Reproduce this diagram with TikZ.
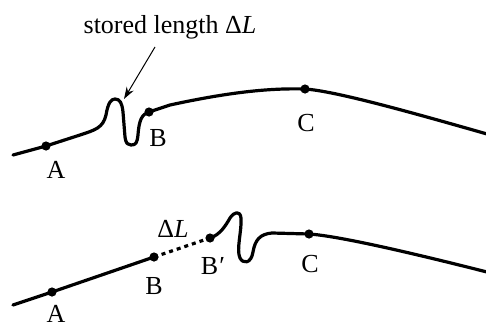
\documentclass[tikz,border=0pt]{standalone}
\usepackage{fontspec}
\setmainfont{Liberation Serif}
\usetikzlibrary{arrows.meta}
\begin{document}
\begin{tikzpicture}[x=0.5pt,y=-0.5pt,
  rope/.style={line width=1.6pt,line cap=round,line join=round},
  pt/.style={circle,fill=black,inner sep=0pt,minimum size=4.6pt},
  lbl/.style={inner sep=0pt,font=\fontsize{13}{15}\selectfont},
  pointer/.style={line width=0.5pt,-{Stealth[length=6pt,width=4pt]}}]
\useasboundingbox (0,0) rectangle (486,321);
% top configuration
\coordinate (t0) at (13,155);
\node[pt] (tA) at (46,146) {};
\coordinate (t1) at (80,135);
\node[pt] (tB) at (149,112) {};
\coordinate (t2) at (170,105);
\node[pt] (tC) at (305,89) {};
\coordinate (t3) at (487,134);
\draw[rope] (t0) -- (tA.center) -- (t1)
  .. controls (95,130) and (103,128) .. (106,115)
  .. controls (108,103) and (111,99) .. (115,99)
  .. controls (120,99) and (122,103) .. (123,112)
  -- (125,137)
  .. controls (126,144) and (128,145) .. (131,145)
  .. controls (136,145) and (137,143) .. (138,135)
  .. controls (139,120) and (142,114) .. (tB.center)
  -- (t2) .. controls (230,92) and (270,88) .. (tC.center)
  .. controls (335,91) and (410,112) .. (t3);
\node[lbl] (lA1) at (56,170) {A};
\node[lbl] (lB1) at (158,138) {B};
\node[lbl] (lC1) at (306,123) {C};
\node[lbl] (title) at (170,27) {stored length \textup{Δ}\textit{L}};
\coordinate (tip) at (124,99);
\draw[pointer] (155,47) -- (tip);
% bottom configuration
\coordinate (b0) at (13,305);
\node[pt] (bA) at (52,292) {};
\node[pt] (bB) at (154,257) {};
\node[pt] (bBp) at (210,238) {};
\node[pt] (bC) at (309,234) {};
\coordinate (b3) at (487,272);
\draw[rope] (b0) -- (bA.center) -- (bB.center);
\draw[line width=1.6pt,dash pattern=on 2pt off 2pt] (bB.center) -- (bBp.center);
\draw[rope] (bBp.center)
  .. controls (220,235) and (226,225) .. (230,218)
  .. controls (234,212) and (240,210) .. (241,218)
  .. controls (242,230) and (236,250) .. (240,258)
  .. controls (243,264) and (251,264) .. (253,252)
  .. controls (255,240) and (260,234) .. (272,233)
  -- (bC.center)
  .. controls (340,236) and (420,255) .. (b3);
\node[lbl] (lA2) at (56,314) {A};
\node[lbl] (lB2) at (154,286) {B};
\node[lbl] (lBp) at (213,266) {B\kern0.5pt′};
\node[lbl] (lC2) at (310,264) {C};
\node[lbl] (lDL) at (173,229) {\textup{Δ}\textit{L}};
\end{tikzpicture}
\end{document}
